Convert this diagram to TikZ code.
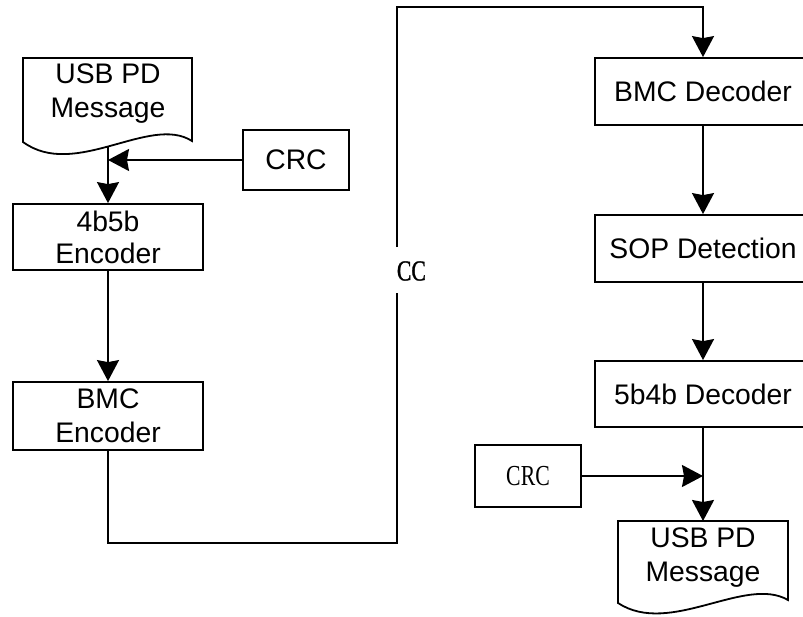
\documentclass[tikz,border=0pt]{standalone}
\usepackage{fontspec}
\setmainfont{Liberation Sans}
\newfontfamily\serifc[FakeStretch=0.75]{Liberation Serif}
\newfontfamily\serifcb[FakeStretch=0.75,FakeBold=1.2]{Liberation Serif}
\usetikzlibrary{arrows.meta}
\begin{document}
\begin{tikzpicture}[x=1pt,y=-1pt,line width=1.8pt,
  every node/.style={inner sep=0pt},
  sans/.style={font=\fontsize{28.3}{33}\selectfont},
  box/.style={draw,rectangle,align=center,sans},
  doctext/.style={align=center,font=\fontsize{28.3}{34}\selectfont},
  sertext/.style={font=\serifc\fontsize{29}{33}\selectfont},
  arr/.style={-{Stealth[length=21pt,width=22pt,inset=2pt]}}]
\useasboundingbox (0,0) rectangle (803,616);
\clip (0,0) rectangle (803,616);
% left column
\draw (23,58) -- (192,58) -- (192,141) .. controls (150,114) and (75,180) .. (23,142) -- cycle;
\node[doctext] (msg1) at (108,94) {USB PD\\Message};
\coordinate (m1b) at (108,146);
\node[box,minimum width=190pt,minimum height=66pt,font=\fontsize{28.3}{32}\selectfont] (enc4) at (108,237) {4b5b\\Encoder};
\node[box,minimum width=190pt,minimum height=68pt,font=\fontsize{28.3}{34}\selectfont] (bmce) at (108,416) {BMC\\Encoder};
\node[box,minimum width=106pt,minimum height=60pt] (crc1) at (296,160) {CRC};
\draw[arr] (m1b) -- (enc4.north);
\draw[arr] (crc1.west) -- (crc1.west -| enc4.north);
\draw[arr] (enc4) -- (bmce);
% right column
\node[box,minimum width=216pt,minimum height=67pt] (bmcd) at (703,91.5) {BMC Decoder};
\node[box,minimum width=216pt,minimum height=67pt] (sop) at (703,248.5) {SOP Detection};
\node[box,minimum width=216pt,minimum height=66pt] (dec5) at (703,394) {5b4b Decoder};
\node[box,sertext,minimum width=106pt,minimum height=62pt] (crc2) at (528,476) {CRC};
\draw (618,521) -- (788,521) -- (788,600) .. controls (745,575) and (670,637) .. (618,603) -- cycle;
\node[doctext] (msg2) at (703,558) {USB PD\\Message};
\coordinate (m2t) at (703,521);
\draw[arr] (bmcd) -- (sop);
\draw[arr] (sop) -- (dec5);
\draw[arr] (dec5.south) -- (m2t);
\draw[arr] (crc2.east) -- (crc2.east -| dec5.south);
% CC channel
\node[font=\serifcb\fontsize{29}{33}\selectfont,anchor=west] (cc) at (396,271) {CC};
\coordinate (cb) at (397,293);
\coordinate (ct) at (397,247);
\coordinate (cbot) at (397,543);
\coordinate (ctop) at (397,7);
\draw (bmce.south) |- (cbot) -- (cb);
\draw[arr] (ct) -- (ctop) -| (bmcd.north);
\end{tikzpicture}
\end{document}
